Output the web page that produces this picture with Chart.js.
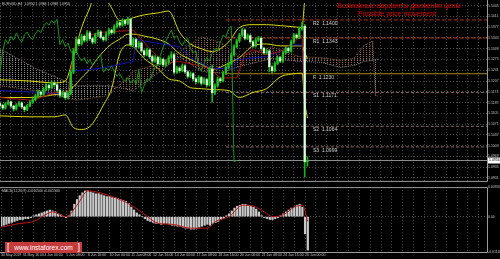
<!DOCTYPE html>
<html lang="ru">
<head>
<meta charset="UTF-8">
<title>EURUSD H4</title>
<script src="https://cdn.jsdelivr.net/npm/chart.js"></script>
<style>
  html, body { margin: 0; padding: 0; background: #000; }
  body { width: 500px; height: 259px; position: relative; overflow: hidden; font-family: Arial, sans-serif; }
  #main { position: absolute; left: 0; top: 0; }
  #macd { position: absolute; left: 0; top: 184px; }
  .logo {
    position: absolute; left: 5px; top: 242px; width: 77px; height: 11px;
    background: #c63a3c; color: #fff; display: flex; align-items: center;
    justify-content: space-between; padding: 0 2px; box-sizing: border-box;
    font-size: 6.6px; font-family: Arial, sans-serif;
  }
  .logo .br { font-size: 9px; line-height: 9px; }
</style>
</head>
<body>
<canvas id="main" width="500" height="184"></canvas>
<canvas id="macd" width="500" height="75"></canvas>
<div class="logo"><span class="br">[</span><span>www.instaforex.com</span><span class="br">]</span></div>

<script>
// ---- data (EURUSD, H4) ----
const dateLabels = ['30 May 2019', '31 May 16:00', '4 Jun 00:00', '5 Jun 08:00', '6 Jun 16:00',
  '10 Jun 00:00', '11 Jun 08:00', '12 Jun 16:00', '14 Jun 00:00', '17 Jun 08:00',
  '18 Jun 16:00', '20 Jun 00:00', '21 Jun 08:00', '24 Jun 16:00', '26 Jun 00:00'];

const opens = [1.1136,1.1130,1.1122,1.1135,1.1141,1.1128,1.1119,1.1131,1.1138,1.1125,
  1.1117,1.1129,1.1140,1.1148,1.1160,1.1172,1.1165,1.1181,1.1193,1.1186,
  1.1201,1.1195,1.1178,1.1162,1.1170,1.1155,1.1168,1.1235,1.1302,1.1338,
  1.1325,1.1348,1.1336,1.1359,1.1341,1.1330,1.1352,1.1362,1.1345,1.1338,
  1.1356,1.1368,1.1360,1.1379,1.1391,1.1384,1.1398,1.1389,1.1402,1.1322,
  1.1338,1.1315,1.1327,1.1302,1.1290,1.1305,1.1284,1.1270,1.1281,1.1262,
  1.1275,1.1258,1.1266,1.1281,1.1290,1.1235,1.1248,1.1240,1.1255,1.1236,
  1.1222,1.1230,1.1214,1.1205,1.1218,1.1200,1.1212,1.1195,1.1245,1.1170,
  1.1192,1.1214,1.1208,1.1232,1.1250,1.1262,1.1290,1.1315,1.1334,1.1352,
  1.1368,1.1342,1.1350,1.1331,1.1318,1.1336,1.1342,1.1310,1.1296,1.1302,
  1.1252,1.1240,1.1262,1.1281,1.1270,1.1296,1.1310,1.1302,1.1330,1.1352,
  1.1345,1.1372,1.1380,1.0952];
const highs = [1.1141,1.1134,1.1139,1.1147,1.1144,1.1131,1.1136,1.1143,1.1141,1.1128,
  1.1134,1.1145,1.1154,1.1166,1.1179,1.1176,1.1187,1.1199,1.1197,1.1207,
  1.1205,1.1199,1.1181,1.1176,1.1173,1.1174,1.1242,1.1310,1.1346,1.1344,
  1.1355,1.1353,1.1366,1.1364,1.1346,1.1358,1.1369,1.1366,1.1349,1.1362,
  1.1374,1.1371,1.1385,1.1397,1.1395,1.1404,1.1402,1.1409,1.1406,1.1344,
  1.1342,1.1333,1.1331,1.1306,1.1311,1.1309,1.1288,1.1287,1.1285,1.1281,
  1.1279,1.1272,1.1287,1.1300,1.1296,1.1254,1.1252,1.1261,1.1259,1.1240,
  1.1236,1.1234,1.1218,1.1224,1.1222,1.1218,1.1216,1.1251,1.1258,1.1198,
  1.1220,1.1218,1.1238,1.1256,1.1268,1.1296,1.1321,1.1340,1.1358,1.1374,
  1.1372,1.1356,1.1354,1.1335,1.1342,1.1348,1.1346,1.1314,1.1308,1.1306,
  1.1256,1.1268,1.1287,1.1285,1.1302,1.1316,1.1314,1.1336,1.1358,1.1356,
  1.1378,1.1392,1.1386,1.0968];
const lows = [1.1124,1.1116,1.1118,1.1131,1.1123,1.1112,1.1115,1.1127,1.1120,1.1110,
  1.1113,1.1125,1.1136,1.1144,1.1155,1.1159,1.1161,1.1176,1.1180,1.1182,
  1.1189,1.1172,1.1155,1.1157,1.1149,1.1150,1.1163,1.1230,1.1296,1.1318,
  1.1320,1.1330,1.1332,1.1335,1.1324,1.1326,1.1347,1.1340,1.1332,1.1334,
  1.1351,1.1354,1.1356,1.1374,1.1378,1.1380,1.1383,1.1385,1.1316,1.1317,
  1.1309,1.1311,1.1297,1.1284,1.1286,1.1278,1.1264,1.1266,1.1256,1.1258,
  1.1252,1.1254,1.1262,1.1277,1.1229,1.1231,1.1234,1.1236,1.1230,1.1216,
  1.1218,1.1208,1.1199,1.1201,1.1194,1.1196,1.1189,1.1191,1.1140,1.1164,
  1.1188,1.1202,1.1204,1.1228,1.1246,1.1258,1.1286,1.1311,1.1330,1.1348,
  1.1337,1.1338,1.1326,1.1313,1.1314,1.1332,1.1305,1.1291,1.1292,1.1236,
  1.1232,1.1236,1.1258,1.1265,1.1266,1.1292,1.1297,1.1298,1.1326,1.1340,
  1.1341,1.1368,1.0905,1.0938];
const closes = [1.1130,1.1122,1.1135,1.1141,1.1128,1.1119,1.1131,1.1138,1.1125,1.1117,
  1.1129,1.1140,1.1148,1.1160,1.1172,1.1165,1.1181,1.1193,1.1186,1.1201,
  1.1195,1.1178,1.1162,1.1170,1.1155,1.1168,1.1235,1.1302,1.1338,1.1325,
  1.1348,1.1336,1.1359,1.1341,1.1330,1.1352,1.1362,1.1345,1.1338,1.1356,
  1.1368,1.1360,1.1379,1.1391,1.1384,1.1398,1.1389,1.1402,1.1322,1.1338,
  1.1315,1.1327,1.1302,1.1290,1.1305,1.1284,1.1270,1.1281,1.1262,1.1275,
  1.1258,1.1266,1.1281,1.1290,1.1235,1.1248,1.1240,1.1255,1.1236,1.1222,
  1.1230,1.1214,1.1205,1.1218,1.1200,1.1212,1.1195,1.1245,1.1170,1.1192,
  1.1214,1.1208,1.1232,1.1250,1.1262,1.1290,1.1315,1.1334,1.1352,1.1368,
  1.1342,1.1350,1.1331,1.1318,1.1336,1.1342,1.1310,1.1296,1.1302,1.1252,
  1.1240,1.1262,1.1281,1.1270,1.1296,1.1310,1.1302,1.1330,1.1352,1.1345,
  1.1372,1.1380,1.0952,1.0956];

// Bollinger bands [bar, price]
const bbUpper = [[0,1.1211],[11,1.1207],[20,1.1201],[24,1.1207],[27,1.1284],[30,1.1376],[33,1.1438],
  [35,1.1484],[38,1.1478],[41,1.1438],[44,1.1398],[47,1.1401],[49,1.1407],[53,1.1416],[58,1.1422],
  [62,1.1428],[66,1.1361],[70,1.1324],[74,1.1309],[78,1.1300],[84,1.1330],[88,1.1376],[93,1.1385],
  [98,1.1385],[103,1.1382],[107,1.1379],[111,1.1376],[112,1.1460],[113,1.1490]];
const bbMiddle = [[0,1.1155],[11,1.1155],[20,1.1164],[24,1.1171],[27,1.1189],[30,1.1217],[33,1.1244],
  [35,1.1269],[38,1.1300],[41,1.1324],[44,1.1339],[47,1.1355],[49,1.1355],[53,1.1349],[58,1.1339],
  [62,1.1324],[66,1.1293],[70,1.1275],[74,1.1260],[78,1.1244],[84,1.1263],[88,1.1281],[93,1.1318],
  [98,1.1324],[103,1.1318],[107,1.1318],[111,1.1318],[112,1.1297],[113,1.1278]];
const bbLower = [[0,1.1097],[11,1.1094],[20,1.1094],[24,1.1100],[27,1.1060],[30,1.1054],[33,1.1063],
  [35,1.1085],[38,1.1131],[41,1.1183],[44,1.1293],[47,1.1321],[49,1.1315],[53,1.1278],[58,1.1247],
  [62,1.1214],[66,1.1207],[70,1.1186],[74,1.1183],[78,1.1180],[84,1.1177],[88,1.1155],[93,1.1171],
  [98,1.1183],[103,1.1220],[107,1.1229],[111,1.1232],[112,1.1140],[113,1.1090]];

// Ichimoku [bar, price]
const tenkan = [[0,1.1155],[12,1.1146],[20,1.1171],[25,1.1171],[26,1.1238],[28,1.1339],[37,1.1361],
  [49,1.1367],[56,1.1300],[61,1.1263],[66,1.1269],[71,1.1260],[77,1.1247],[81,1.1217],[87,1.1217],
  [90,1.1290],[93,1.1306],[98,1.1290],[103,1.1300],[108,1.1330],[111,1.1352],[112,1.1148],[113,1.1148]];
const kijun = [[0,1.1177],[20,1.1168],[25,1.1168],[26,1.1238],[37,1.1247],[49,1.1269],[50,1.1339],
  [55,1.1330],[62,1.1321],[66,1.1315],[71,1.1275],[78,1.1247],[86,1.1247],[87,1.1275],[98,1.1284],
  [103,1.1300],[108,1.1321],[111,1.1321],[112,1.1148],[113,1.1148]];
const cloudBars = [0,13,28,40,49,59,66,74,81,88,100,110,118,125,130,134,137,138,139];
const spanA = [1.1192,1.1177,1.1146,1.1161,1.1238,1.1263,1.1300,1.1346,1.1330,1.1284,1.1315,
  1.1284,1.1281,1.1272,1.1278,1.1321,1.1333,1.1160,1.1160];
const spanB = [1.1309,1.1247,1.1192,1.1192,1.1177,1.1238,1.1284,1.1238,1.1232,1.1253,1.1278,
  1.1269,1.1266,1.1250,1.1256,1.1269,1.1272,1.1275,1.1275];

// levels drawn on the chart
const levelNames = ['R2', 'R1', 'F', 'S1', 'S2', 'S3'];
const levelValues = [1.1400, 1.1343, 1.1230, 1.1171, 1.1064, 1.0999];

// MACD(12,26,9): main line as histogram, signal line [bar, value]
const macdHist = [-0.0030,-0.0027,-0.0024,-0.0021,-0.0018,-0.0015,-0.0012,-0.0009,
  -0.0009,-0.0006,-0.0006,-0.0003,0.0003,0.0006,
  0.0009,0.0012,0.0015,0.0018,0.0021,0.0018,0.0015,
  0.0009,0.0006,0.0000,-0.0003,0.0003,
  0.0018,0.0039,0.0054,
  0.0066,0.0075,0.0081,0.0081,0.0078,
  0.0075,0.0072,0.0072,0.0069,0.0066,0.0063,0.0063,0.0060,0.0060,0.0057,0.0054,
  0.0051,0.0048,0.0042,0.0030,0.0021,
  0.0012,0.0006,0.0000,-0.0006,-0.0012,
  -0.0015,-0.0018,-0.0021,-0.0021,-0.0024,-0.0021,
  -0.0021,-0.0024,-0.0027,-0.0027,-0.0030,-0.0030,-0.0033,
  -0.0036,-0.0036,-0.0039,-0.0039,-0.0036,-0.0033,-0.0030,-0.0027,
  -0.0024,-0.0027,-0.0021,-0.0018,-0.0015,-0.0009,-0.0006,0.0003,
  0.0009,0.0018,0.0027,0.0033,0.0036,0.0039,0.0039,
  0.0036,0.0033,0.0030,0.0024,0.0015,
  0.0003,-0.0003,-0.0006,-0.0009,-0.0009,-0.0006,-0.0003,
  0.0003,0.0009,0.0015,0.0021,0.0027,0.0030,0.0036,0.0039,
  0.0030,-0.0054,-0.0105];
const macdSignal = [[0,-0.0033],[7,-0.0021],[12,-0.0015],[17,0.0009],[19,0.0015],[24,0.0000],
  [28,0.0036],[32,0.0081],[40,0.0066],[48,0.0036],[53,0.0006],[58,-0.0021],[63,-0.0024],
  [70,-0.0036],[76,-0.0036],[79,-0.0015],[84,0.0000],[89,0.0036],[93,0.0033],[97,0.0015],
  [100,0.0000],[104,0.0006],[108,0.0030],[111,0.0036],[113,-0.0015]];

// axis ticks
const priceTicks = [1.1445,1.1411,1.1377,1.1343,1.1309,1.1275,1.1241,1.1207,1.1173,1.1139,
  1.1105,1.1071,1.1037,1.1003,1.0969,1.0935,1.0901];
const macdTicks = [0.0093, 0, -0.0111];

// ---- layout / style ----
const SLOTS = 180;
const slots = Array.from({ length: SLOTS }, (_, i) => i);
const gridCol = '#4c4c4c';
const frameCol = '#9a9a9a';
const levelFrom = 83;
const levelColors = ['#a8361a', '#c4461c', '#9c8f14', '#8c6a6a', '#8c6a6a', '#8c6a6a'];
const levelDash = [[4, 2], [4, 2], [], [3, 2], [3, 2], [3, 2]];
const last = closes.length - 1;
const lastClose = closes[last];

const pts = arr => arr.map(([x, y]) => ({ x, y }));
const line = (data, color, extra) => Object.assign({
  type: 'line', data, borderColor: color, borderWidth: 1, pointRadius: 0, fill: false
}, extra || {});

const mctx = document.getElementById('main').getContext('2d');
function hatch(color) {
  const c = document.createElement('canvas');
  c.width = 3; c.height = 2;
  const g = c.getContext('2d');
  g.fillStyle = color;
  g.fillRect(0, 0, 1, 1);
  return mctx.createPattern(c, 'repeat');
}

const xGrid = {
  color: c => (c.index % 4 === 0 ? gridCol : 'transparent'),
  offset: false, drawTicks: false
};

const mainOverlay = {
  id: 'mainOverlay',
  afterDraw(chart) {
    const { ctx, chartArea: a, scales: { y } } = chart;
    ctx.save();
    ctx.strokeStyle = frameCol;
    ctx.lineWidth = 1;
    ctx.beginPath();
    ctx.moveTo(a.right + 0.5, 0);
    ctx.lineTo(a.right + 0.5, a.bottom + 0.5);
    ctx.moveTo(0, a.bottom + 0.5);
    ctx.lineTo(a.right + 0.5, a.bottom + 0.5);
    ctx.stroke();

    ctx.textAlign = 'left';
    ctx.textBaseline = 'top';
    ctx.fillStyle = '#c8c8c8';
    ctx.font = '3.5px Arial';
    ctx.fillText('EURUSD,H4  ' + [opens[last], highs[last], lows[last], closes[last]]
      .map(v => v.toFixed(4)).join(' '), 2, 2);

    ctx.font = '5px Arial';
    ctx.fillStyle = '#d0d0d0';
    levelNames.forEach((n, k) => {
      ctx.fillText(n + '  ' + levelValues[k].toFixed(4), 313, y.getPixelForValue(levelValues[k]) + 1);
    });

    ctx.fillStyle = '#e40000';
    ctx.font = '7px Arial';
    ctx.textAlign = 'center';
    ctx.textBaseline = 'middle';
    ctx.fillText('Возможные варианты движения цены', 399, 6);
    ctx.fillText('Possible price movement', 397, 14.5);

    const py = y.getPixelForValue(lastClose);
    ctx.fillStyle = '#ffffff';
    ctx.fillRect(a.right + 1, py - 3, 12, 6);
    ctx.fillStyle = '#000';
    ctx.font = '3.5px Arial';
    ctx.textAlign = 'left';
    ctx.fillText(lastClose.toFixed(4), a.right + 2, py);
    ctx.restore();
  }
};

const macdOverlay = {
  id: 'macdOverlay',
  afterDraw(chart) {
    const { ctx, chartArea: a } = chart;
    ctx.save();
    ctx.strokeStyle = frameCol;
    ctx.lineWidth = 1;
    ctx.beginPath();
    ctx.moveTo(0, a.top + 0.5);
    ctx.lineTo(a.right + 0.5, a.top + 0.5);
    ctx.lineTo(a.right + 0.5, a.bottom + 0.5);
    ctx.lineTo(0, a.bottom + 0.5);
    ctx.stroke();
    ctx.fillStyle = '#c8c8c8';
    ctx.font = '3.5px Arial';
    ctx.textBaseline = 'top';
    ctx.fillText('MACD(12,26,9) ' + macdHist[last].toFixed(6) + ' ' +
      macdSignal[macdSignal.length - 1][1].toFixed(6), 2, a.top + 2);
    ctx.restore();
  }
};

new Chart(mctx, {
  type: 'bar',
  data: {
    labels: slots,
    datasets: [
      line(cloudBars.map((b, i) => ({ x: b, y: spanB[i] })), '#8e8080',
        { borderDash: [1, 1], order: 20 }),
      line(cloudBars.map((b, i) => ({ x: b, y: spanA[i] })), '#8a5e3e',
        { borderDash: [1, 1], order: 19,
          fill: { target: 0, above: hatch('#946446'), below: hatch('#858585') } }),
      ...levelValues.map((v, k) => line([{ x: levelFrom, y: v }, { x: SLOTS - 1, y: v }],
        levelColors[k], { borderDash: levelDash[k], order: 15 })),
      line([{ x: 0, y: lastClose }, { x: SLOTS - 1, y: lastClose }], '#8e8e8e', { order: 14 }),
      line(pts(bbUpper), '#d8d80c', { cubicInterpolationMode: 'monotone', order: 10 }),
      line(pts(bbMiddle), '#d8d80c', { cubicInterpolationMode: 'monotone', order: 10 }),
      line(pts(bbLower), '#d8d80c', { cubicInterpolationMode: 'monotone', order: 10 }),
      line(pts(kijun), '#1010b8', { order: 9 }),
      line(pts(tenkan), '#b01010', { order: 8 }),
      line(closes.slice(26).map((v, i) => ({ x: i, y: v })), '#1a941a', { order: 7 }),
      {
        type: 'bar', data: highs.map((h, i) => [lows[i], h]),
        backgroundColor: '#1cae1c', barThickness: 1, grouped: false, order: 3
      },
      {
        type: 'bar', data: opens.map((o, i) => [o, closes[i]]),
        backgroundColor: opens.map((o, i) => (closes[i] >= o ? '#22c422' : '#dcffdc')),
        barThickness: 1.6, grouped: false, order: 2
      }
    ]
  },
  options: {
    responsive: false,
    animation: false,
    layout: { padding: 0 },
    plugins: { legend: { display: false }, tooltip: { enabled: false } },
    scales: {
      x: {
        offset: false,
        grid: xGrid,
        border: { display: false, dash: [1, 2] },
        ticks: { display: false, autoSkip: false, callback: () => '' },
        afterFit: s => { s.height = 1; }
      },
      y: {
        position: 'right',
        min: 1.08916, max: 1.14531,
        afterFit: s => { s.width = 13; },
        afterBuildTicks: s => { s.ticks = priceTicks.map(value => ({ value })); },
        grid: { color: gridCol, drawTicks: false },
        border: { display: false, dash: [1, 2] },
        ticks: {
          color: '#c4c4c4', font: { size: 3.5, family: 'Arial' }, padding: 1,
          autoSkip: false, callback: v => v.toFixed(4)
        }
      }
    }
  },
  plugins: [mainOverlay]
});

new Chart(document.getElementById('macd'), {
  type: 'bar',
  data: {
    labels: slots,
    datasets: [
      line(pts(macdSignal), '#c01414', { cubicInterpolationMode: 'monotone', order: 1 }),
      {
        type: 'bar', data: macdHist, backgroundColor: '#c8c8c8',
        barThickness: 1.6, grouped: false, order: 2
      }
    ]
  },
  options: {
    responsive: false,
    animation: false,
    layout: { padding: { top: 1 } },
    plugins: { legend: { display: false }, tooltip: { enabled: false } },
    scales: {
      x: {
        offset: false,
        grid: xGrid,
        border: { display: false, dash: [1, 2] },
        ticks: {
          color: '#c4c4c4', font: { size: 3.5, family: 'Arial' }, padding: 1,
          autoSkip: false, maxRotation: 0, minRotation: 0, align: 'start',
          callback: (v, i) => (i % 8 === 0 ? (dateLabels[i / 8] || '') : '')
        },
        afterFit: s => { s.height = 7; }
      },
      y: {
        position: 'right',
        min: -0.0111, max: 0.0093,
        afterFit: s => { s.width = 13; },
        afterBuildTicks: s => { s.ticks = macdTicks.map(value => ({ value })); },
        grid: { color: c => (c.tick && c.tick.value === 0 ? gridCol : 'transparent'), drawTicks: false },
        border: { display: false, dash: [1, 2] },
        ticks: {
          color: '#c4c4c4', font: { size: 3.5, family: 'Arial' }, padding: 1,
          autoSkip: false, callback: v => (v === 0 ? '0.00' : v.toFixed(6))
        }
      }
    }
  },
  plugins: [macdOverlay]
});
</script>
</body>
</html>
